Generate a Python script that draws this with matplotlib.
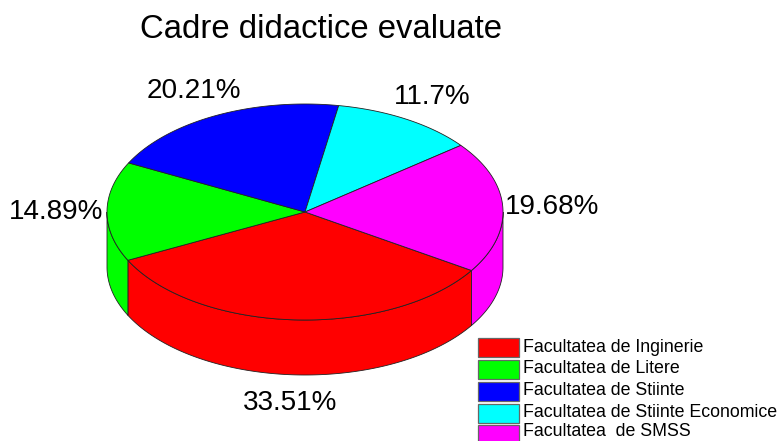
import numpy as np
import matplotlib
matplotlib.use('Agg')
import matplotlib.pyplot as plt
from matplotlib.patches import Rectangle

# datos
facultati = ['Facultatea de Inginerie', 'Facultatea de Litere', 'Facultatea de Stiinte',
             'Facultatea de Stiinte Economice', 'Facultatea  de SMSS']
procente = [33.51, 14.89, 20.21, 11.7, 19.68]
etichete = ['33.51%', '14.89%', '20.21%', '11.7%', '19.68%']
culori = ['#ff0000', '#00ff00', '#0000ff', '#00ffff', '#ff00ff']

# geometria del pie en pixeles
cx, cy = 305, 212
rx, ry = 198, 108
grosor = 55
inicio = -32.8
pos_etiquetas = [(290, 403), (56.5, 212), (193.5, 91), (432.5, 97), (552.5, 207)]

plt.rcParams['font.family'] = ['Liberation Sans', 'DejaVu Sans']

fig = plt.figure(figsize=(7.81, 4.41), dpi=100)
ax = fig.add_axes([0, 0, 1, 1])
ax.set_xlim(0, 781)
ax.set_ylim(441, 0)
ax.axis('off')


def arco(a, b):
    t = np.radians(np.linspace(a, b, 200))
    return cx + rx * np.cos(t), cy - ry * np.sin(t)


# angulos: el primer sector va en sentido horario desde inicio
fin = inicio - np.cumsum(procente) * 3.6
ini = np.r_[inicio, fin[:-1]]

# paredes laterales (solo mitad delantera)
for a, b, c in zip(ini, fin, culori):
    for k in (0, 360, 720):
        lo = max(b + k, 180)
        hi = min(a + k, 360)
        if lo < hi:
            x, y = arco(lo, hi)
            ax.fill(np.r_[x, x[::-1]], np.r_[y, y[::-1] + grosor], facecolor=c,
                    edgecolor='#222222', linewidth=0.6, zorder=2)

# cara superior
for a, b, c in zip(ini, fin, culori):
    x, y = arco(b, a)
    ax.fill(np.r_[cx, x], np.r_[cy, y], facecolor=c, edgecolor='#222222',
            linewidth=0.6, zorder=3)

ax.text(320.5, 29, 'Cadre didactice evaluate', fontsize=23.7, ha='center', va='center', color='black')

for (px, py), txt in zip(pos_etiquetas, etichete):
    ax.text(px, py, txt, fontsize=20.1, ha='center', va='center', color='black')

# leyenda
y_ley = [347, 369, 391, 413, 434.5]
y_txt = [347, 368.5, 390.5, 412.5, 432]
for y, yt, c, nume in zip(y_ley, y_txt, culori, facultati):
    ax.add_patch(Rectangle((478, y - 9.5), 41, 19, facecolor=c, edgecolor='#666666',
                           linewidth=0.9, zorder=4, clip_on=False))
    ax.text(523, yt, nume, fontsize=12.8, ha='left', va='center', color='black')

fig.savefig('out.png', dpi=100, facecolor='white')
